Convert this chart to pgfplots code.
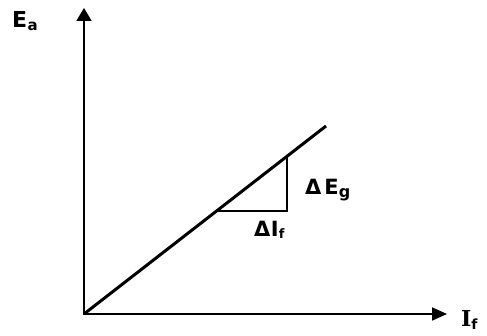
\documentclass[border=0pt]{standalone}
\usepackage{pgfplots}
\pgfplotsset{compat=1.18}
\usepackage{fontspec}
\setmainfont{DejaVu Sans}
\newfontfamily\serifI{DejaVu Serif}
\usetikzlibrary{arrows.meta}
\begin{document}
\begin{tikzpicture}
\begin{axis}[
  hide axis, scale only axis, width=487pt, height=336pt,
  xmin=0, xmax=487, ymin=0, ymax=336, clip=false,
]
\path (rel axis cs:0,0) rectangle (rel axis cs:1,1);
% axes
\addplot[black, line width=1.8pt, -{Triangle[length=13pt,width=15pt]}] coordinates {(84,21) (84,328)};
\addplot[black, line width=1.8pt, -{Triangle[length=15pt,width=13pt]}] coordinates {(83,22) (447,22)};
% characteristic line
\addplot[black, line width=3pt] coordinates {(84,22) (326,210)};
% slope triangle
\addplot[black, line width=1.4pt] coordinates {(216,125) (287,125) (287,180)};
% labels
\node[anchor=base west, inner sep=0pt, font=\bfseries\fontsize{22}{22}\selectfont] at (axis cs:12,308) {E\kern0.5pt\raisebox{-3pt}{\fontsize{15}{15}\selectfont a}};
\node[anchor=base west, inner sep=0pt, font=\bfseries\fontsize{22}{22}\selectfont] at (axis cs:461,9) {{\serifI I}\raisebox{-3pt}{\fontsize{14}{14}\selectfont f}};
\node[anchor=base west, inner sep=0pt, font=\bfseries\fontsize{21}{21}\selectfont] at (axis cs:305,141) {Δ\kern3pt E\raisebox{-3pt}{\fontsize{16}{16}\selectfont g}};
\node[anchor=base west, inner sep=0pt, font=\bfseries\fontsize{21}{21}\selectfont] at (axis cs:254,99) {Δ\kern0.5pt I\raisebox{-2pt}{\fontsize{13}{13}\selectfont f}};
\end{axis}
\end{tikzpicture}
\end{document}
